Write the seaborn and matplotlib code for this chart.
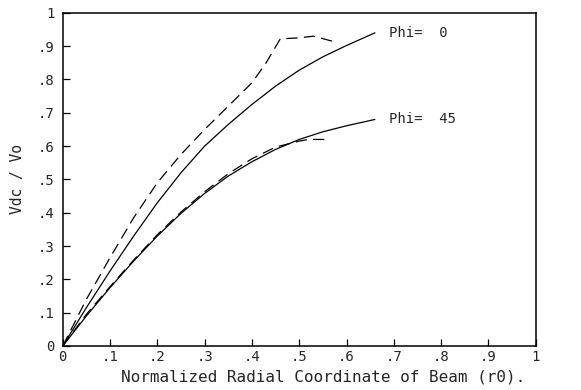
import matplotlib
matplotlib.use("Agg")
import matplotlib.pyplot as plt
import seaborn as sns
import numpy as np

# Phi = 0 curves
phi0_x_solid = [0.0, 0.05, 0.1, 0.15, 0.2, 0.25, 0.3, 0.35, 0.4, 0.45, 0.5, 0.55, 0.6, 0.66]
phi0_y_solid = [0.0, 0.115, 0.225, 0.33, 0.43, 0.52, 0.60, 0.665, 0.725, 0.78, 0.828, 0.868, 0.902, 0.94]
phi0_x_dash = [0.0, 0.05, 0.1, 0.15, 0.2, 0.25, 0.3, 0.35, 0.4, 0.43, 0.46, 0.5, 0.53, 0.57]
phi0_y_dash = [0.0, 0.14, 0.265, 0.385, 0.49, 0.575, 0.65, 0.72, 0.79, 0.85, 0.922, 0.925, 0.93, 0.915]

# Phi = 45 curves
phi45_x_solid = [0.0, 0.05, 0.1, 0.15, 0.2, 0.25, 0.3, 0.35, 0.4, 0.45, 0.5, 0.55, 0.6, 0.66]
phi45_y_solid = [0.0, 0.09, 0.175, 0.255, 0.33, 0.398, 0.458, 0.51, 0.553, 0.59, 0.62, 0.643, 0.661, 0.68]
phi45_x_dash = [0.0, 0.05, 0.1, 0.15, 0.2, 0.25, 0.3, 0.35, 0.4, 0.45, 0.5, 0.52, 0.56]
phi45_y_dash = [0.0, 0.095, 0.178, 0.258, 0.334, 0.402, 0.463, 0.517, 0.562, 0.597, 0.615, 0.62, 0.62]

curve_labels = ["Phi=  0", "Phi=  45"]
label_pos_x = [0.69, 0.69]
label_pos_y = [0.94, 0.68]

ticks = [0.0, 0.1, 0.2, 0.3, 0.4, 0.5, 0.6, 0.7, 0.8, 0.9, 1.0]
tick_labels = ["0", ".1", ".2", ".3", ".4", ".5", ".6", ".7", ".8", ".9", "1"]


def main():
    sns.set_style("ticks")
    plt.rcParams["font.family"] = ["DejaVu Sans Mono"]

    fig, ax = plt.subplots(figsize=(5.81, 3.90), dpi=100)
    fig.subplots_adjust(left=0.108, right=0.922, top=0.967, bottom=0.113)

    lw = 0.9
    sns.lineplot(x=phi0_x_solid, y=phi0_y_solid, ax=ax, color="black", lw=lw)
    sns.lineplot(x=phi0_x_dash, y=phi0_y_dash, ax=ax, color="black", lw=lw,
                 dashes=False, linestyle=(0, (9, 5)))
    sns.lineplot(x=phi45_x_solid, y=phi45_y_solid, ax=ax, color="black", lw=lw)
    sns.lineplot(x=phi45_x_dash, y=phi45_y_dash, ax=ax, color="black", lw=lw,
                 dashes=False, linestyle=(0, (9, 5)))

    for lab, lx, ly in zip(curve_labels, label_pos_x, label_pos_y):
        ax.text(lx, ly, lab, fontsize=10, va="center", ha="left")

    ax.set_xlim(0, 1)
    ax.set_ylim(0, 1)
    ax.set_xticks(ticks)
    ax.set_xticklabels(tick_labels, fontsize=10)
    ax.set_yticks(ticks)
    ax.set_yticklabels(tick_labels, fontsize=10)
    ax.tick_params(direction="in", length=5, width=0.9, color="black")
    ax.tick_params(axis="y", pad=6)
    ax.tick_params(axis="x", pad=3)

    for s in ax.spines.values():
        s.set_linewidth(1.1)
        s.set_color("black")

    ax.set_xlabel("Normalized Radial Coordinate of Beam (r0).", fontsize=11.5)
    ax.xaxis.set_label_coords(0.55, -0.07)
    ax.set_ylabel("Vdc / Vo", fontsize=10.5)
    ax.yaxis.set_label_coords(-0.08, 0.5)

    fig.savefig("out.png", dpi=100)


if __name__ == "__main__":
    main()
